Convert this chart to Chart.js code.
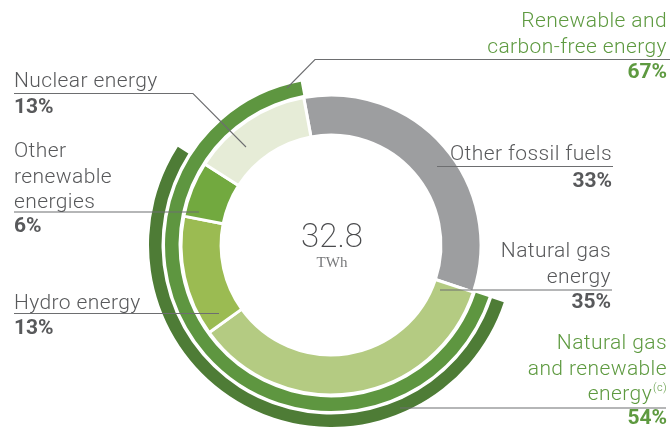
<!DOCTYPE html>
<html>
<head>
<meta charset="utf-8">
<script src="https://cdn.jsdelivr.net/npm/chart.js@4"></script>
<style>
  html, body { margin: 0; padding: 0; background: #fff; }
  .wrap { position: relative; width: 670px; height: 427px; }
</style>
</head>
<body>
<div class="wrap"><canvas id="energyChart"></canvas></div>
<script>
// ---- data ----
const categories = ['Other fossil fuels', 'Natural gas energy', 'Hydro energy', 'Other renewable energies', 'Nuclear energy'];
const shares = [33, 35, 13, 6, 13];
const sliceColors = ['#9d9ea0', '#b4cb82', '#9bbb52', '#72a93f', '#e6ecd7'];

const groupNames = ['Renewable and carbon-free energy', 'Natural gas and renewable energy'];
const carbonFreeShare = 67;   // gas + hydro + other renewables + nuclear
const gasRenewShare = 54;     // gas + hydro + other renewables

const totalValue = '32.8';
const totalUnit = 'TWh';

const GREEN_TXT = '#5e9a40';
const GRAY_TXT = '#58595b';
const LINE = '#6d6e70';
const LABEL_FONT = '300 21px Roboto, "Liberation Sans", sans-serif';
const PCT_FONT = 'bold 21px Roboto, "Liberation Sans", sans-serif';

// labels + leader lines (layout only)
const labels = [
  { lines: ['Nuclear energy'], pct: shares[4] + '%', color: GRAY_TXT, align: 'left', x: 14,
    base: 87, pctBase: 113, line: [[14, 93.5], [193, 93.5], [246, 147]] },
  { lines: ['Other', 'renewable', 'energies'], pct: shares[3] + '%', color: GRAY_TXT, align: 'left', x: 14,
    base: 157, pctBase: 232, line: [[14, 212], [199, 212]] },
  { lines: ['Hydro energy'], pct: shares[2] + '%', color: GRAY_TXT, align: 'left', x: 14,
    base: 309, pctBase: 334, line: [[14, 313.5], [219, 313.5]] },
  { lines: ['Renewable and', 'carbon-free energy'], pct: carbonFreeShare + '%', color: GREEN_TXT, align: 'right', x: 667,
    base: 27, pctBase: 78, line: [[670, 59.5], [315, 59.5], [287, 88]] },
  { lines: ['Other fossil fuels'], pct: shares[0] + '%', color: GRAY_TXT, align: 'right', x: 612,
    base: 160, pctBase: 187, line: [[613, 166.5], [437, 166.5]] },
  { lines: ['Natural gas', 'energy'], pct: shares[1] + '%', color: GRAY_TXT, align: 'right', x: 611,
    base: 257, pctBase: 308, line: [[612, 290], [440, 290]] },
  { lines: ['Natural gas', 'and renewable', 'energy'], sup: '(c)', pct: gasRenewShare + '%', color: GREEN_TXT, align: 'right', x: 667,
    base: 349, pctBase: 424, line: [[666, 408], [400, 408]] }
];

const labelPlugin = {
  id: 'labelPlugin',
  afterDraw(chart) {
    const ctx = chart.ctx;
    ctx.save();

    // leader lines
    ctx.strokeStyle = LINE;
    ctx.lineWidth = 1.1;
    labels.forEach(l => {
      ctx.beginPath();
      l.line.forEach((p, i) => i ? ctx.lineTo(p[0], p[1]) : ctx.moveTo(p[0], p[1]));
      ctx.stroke();
    });

    ctx.textBaseline = 'alphabetic';
    labels.forEach(l => {
      ctx.fillStyle = l.color;
      ctx.letterSpacing = '0.4px';
      ctx.font = LABEL_FONT;
      l.lines.forEach((txt, i) => {
        const y = l.base + i * 25.5;
        const last = i === l.lines.length - 1;
        if (last && l.sup) {
          ctx.font = '300 11px Roboto, sans-serif';
          const sw = ctx.measureText(l.sup).width;
          ctx.textAlign = 'left';
          ctx.fillText(l.sup, l.x - sw, y - 9);
          ctx.font = LABEL_FONT;
          ctx.textAlign = 'right';
          ctx.fillText(txt, l.x - sw - 1, y);
        } else {
          ctx.textAlign = l.align;
          ctx.fillText(txt, l.x, y);
        }
      });
      ctx.letterSpacing = '0px';
      ctx.font = PCT_FONT;
      ctx.textAlign = l.align;
      ctx.fillText(l.pct, l.x, l.pctBase);
    });

    // centre total
    const arc = chart.getDatasetMeta(4).data[0];
    const cx = arc.x, cy = arc.y;
    ctx.textAlign = 'center';
    ctx.fillStyle = '#4a4b4d';
    ctx.font = '200 33px Roboto, sans-serif';
    ctx.fillText(totalValue, cx + 1, cy + 2);
    ctx.fillStyle = '#77787a';
    ctx.font = '15px "Liberation Serif", serif';
    ctx.fillText(totalUnit, cx + 1, cy + 22);

    ctx.restore();
  }
};

const T = 'rgba(0,0,0,0)';

new Chart(document.getElementById('energyChart'), {
  type: 'doughnut',
  data: {
    labels: categories,
    datasets: [
      {
        label: groupNames[1],
        data: [shares[0], gasRenewShare, 100 - shares[0] - gasRenewShare],
        backgroundColor: [T, '#4e7c36', T],
        borderWidth: 0,
        weight: 12.5
      },
      { data: [100], backgroundColor: [T], borderWidth: 0, weight: 3.5 },
      {
        label: groupNames[0],
        data: [shares[0], carbonFreeShare],
        backgroundColor: [T, '#5e9640'],
        borderWidth: 0,
        weight: 13.5
      },
      { data: [100], backgroundColor: [T], borderWidth: 0, weight: 2.5 },
      {
        label: 'Share',
        data: shares,
        backgroundColor: sliceColors,
        borderColor: '#ffffff',
        borderWidth: 3,
        weight: 40
      }
    ]
  },
  options: {
    responsive: true,
    maintainAspectRatio: false,
    animation: false,
    events: [],
    rotation: -10.5,
    cutout: '60.4%',
    layout: { padding: { left: 149, right: 157, top: 63, bottom: 0 } },
    plugins: {
      legend: { display: false },
      tooltip: { enabled: false }
    }
  },
  plugins: [labelPlugin]
});
</script>
</body>
</html>
